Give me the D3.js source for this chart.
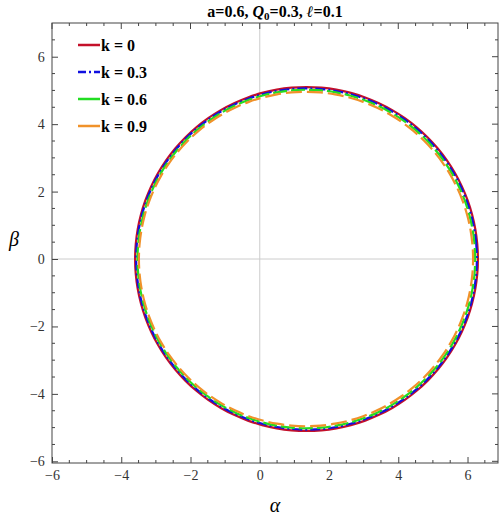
<!DOCTYPE html>
<html><head><meta charset="utf-8">
<script src="https://cdn.jsdelivr.net/npm/d3@7"></script>
<style>body{margin:0;background:#fff}text{font-family:"Liberation Serif",serif}</style>
</head><body><div id="chart"></div>
<script>
const W = 500, H = 520;
const M = {left:52, right:2, top:23, bottom:57};

// curve data
const kLabels = ["k = 0", "k = 0.3", "k = 0.6", "k = 0.9"];
const alphaMin = [-3.60, -3.57, -3.53, -3.49];
const alphaMax = [6.30, 6.27, 6.22, 6.16];
const betaMax = [5.10, 5.06, 5.02, 4.96];
const colors = ["#c4102a", "#1010e0", "#22dd22", "#f0922a"];
const dashes = [null, "10,3,2,3", "14,4", "16,5"];
const ticks = [-6, -4, -2, 0, 2, 4, 6];

const Y0 = -6.05, Y1 = 7, X0 = -6, X1 = 6.88;
const svg = d3.select("#chart").append("svg").attr("width", W).attr("height", H);
const x = d3.scaleLinear().domain([X0, X1]).range([M.left, W - M.right]);
const y = d3.scaleLinear().domain([Y0, Y1]).range([H - M.bottom, M.top]);

svg.append("line").attr("x1", x(0)).attr("x2", x(0)).attr("y1", y(Y1)).attr("y2", y(Y0)).attr("stroke", "#ccc");
svg.append("line").attr("x1", x(X0)).attr("x2", x(X1)).attr("y1", y(0)).attr("y2", y(0)).attr("stroke", "#ccc");

const angles = d3.range(0, 360, 5);
const line = d3.line().curve(d3.curveCardinalClosed);
kLabels.forEach((k, i) => {
  const cx = (alphaMin[i] + alphaMax[i]) / 2, rx = (alphaMax[i] - alphaMin[i]) / 2;
  const pts = angles.map(a => [x(cx + rx * Math.cos(a * Math.PI / 180)), y(betaMax[i] * Math.sin(a * Math.PI / 180))]);
  svg.append("path").attr("d", line(pts)).attr("fill", "none")
    .attr("stroke", colors[i]).attr("stroke-width", 2.2).attr("stroke-dasharray", dashes[i]);
});

// frame and axes
svg.append("rect").attr("x", M.left).attr("y", M.top).attr("width", W - M.left - M.right)
  .attr("height", H - M.top - M.bottom).attr("fill", "none").attr("stroke", "#444");
const minor = d3.range(-6, 7, 0.5);
const fmt = d => d < 0 ? "\u2212" + (-d) : d;
const axB = svg.append("g").attr("transform", `translate(0,${y(Y0)})`)
  .call(d3.axisBottom(x).tickValues(ticks).tickSize(-6).tickFormat(fmt));
const axL = svg.append("g").attr("transform", `translate(${x(X0)},0)`)
  .call(d3.axisLeft(y).tickValues(ticks).tickSize(-6).tickFormat(fmt));
[axB, axL].forEach(a => { a.select(".domain").remove(); a.selectAll("text").attr("font-size", 14).attr("font-family", "Liberation Sans, sans-serif").attr("fill", "#333"); a.selectAll("line").attr("stroke", "#444"); });
axB.selectAll("text").attr("dy", "1em");
axL.selectAll("text").attr("dx", "-0.3em");
minor.forEach(v => {
  const big = ticks.includes(v);
  const s = big ? 6 : 3;
  svg.append("line").attr("x1", x(v)).attr("x2", x(v)).attr("y1", y(Y1)).attr("y2", y(Y1) + s).attr("stroke", "#444");
  if (!big) svg.append("line").attr("x1", x(v)).attr("x2", x(v)).attr("y1", y(Y0)).attr("y2", y(Y0) - s).attr("stroke", "#444");
  svg.append("line").attr("x1", x(X1)).attr("x2", x(X1) - s).attr("y1", y(v)).attr("y2", y(v)).attr("stroke", "#444");
  if (!big) svg.append("line").attr("x1", x(X0)).attr("x2", x(X0) + s).attr("y1", y(v)).attr("y2", y(v)).attr("stroke", "#444");
});

// title & labels
const t = svg.append("text").attr("x", 275).attr("y", 17).attr("text-anchor", "middle")
  .attr("font-size", 16).attr("font-weight", "bold");
t.append("tspan").text("a=0.6, ");
t.append("tspan").attr("font-style", "italic").text("Q");
t.append("tspan").attr("font-size", 11).attr("dy", 3).text("0");
t.append("tspan").attr("dy", -3).text("=0.3, ");
t.append("tspan").attr("font-style", "italic").text("\u2113");
t.append("tspan").text("=0.1");
svg.append("text").attr("x", 275).attr("y", 512).attr("text-anchor", "middle").attr("font-size", 20).attr("font-style", "italic").text("\u03b1");
svg.append("text").attr("x", 14).attr("y", 246).attr("text-anchor", "middle").attr("font-size", 20).attr("font-style", "italic").text("\u03b2");

// legend
const lg = svg.append("g").attr("transform", "translate(78,45)");
kLabels.forEach((k, i) => {
  const g = lg.append("g").attr("transform", `translate(0,${i * 27})`);
  g.append("line").attr("x1", 0).attr("x2", 22).attr("stroke", colors[i]).attr("stroke-width", 2.5)
    .attr("stroke-dasharray", i === 1 ? "8,3,2,3" : null);
  g.append("text").attr("x", 23).attr("y", 6).attr("font-size", 16).attr("font-weight", "bold").text(k);
});
</script></body></html>
